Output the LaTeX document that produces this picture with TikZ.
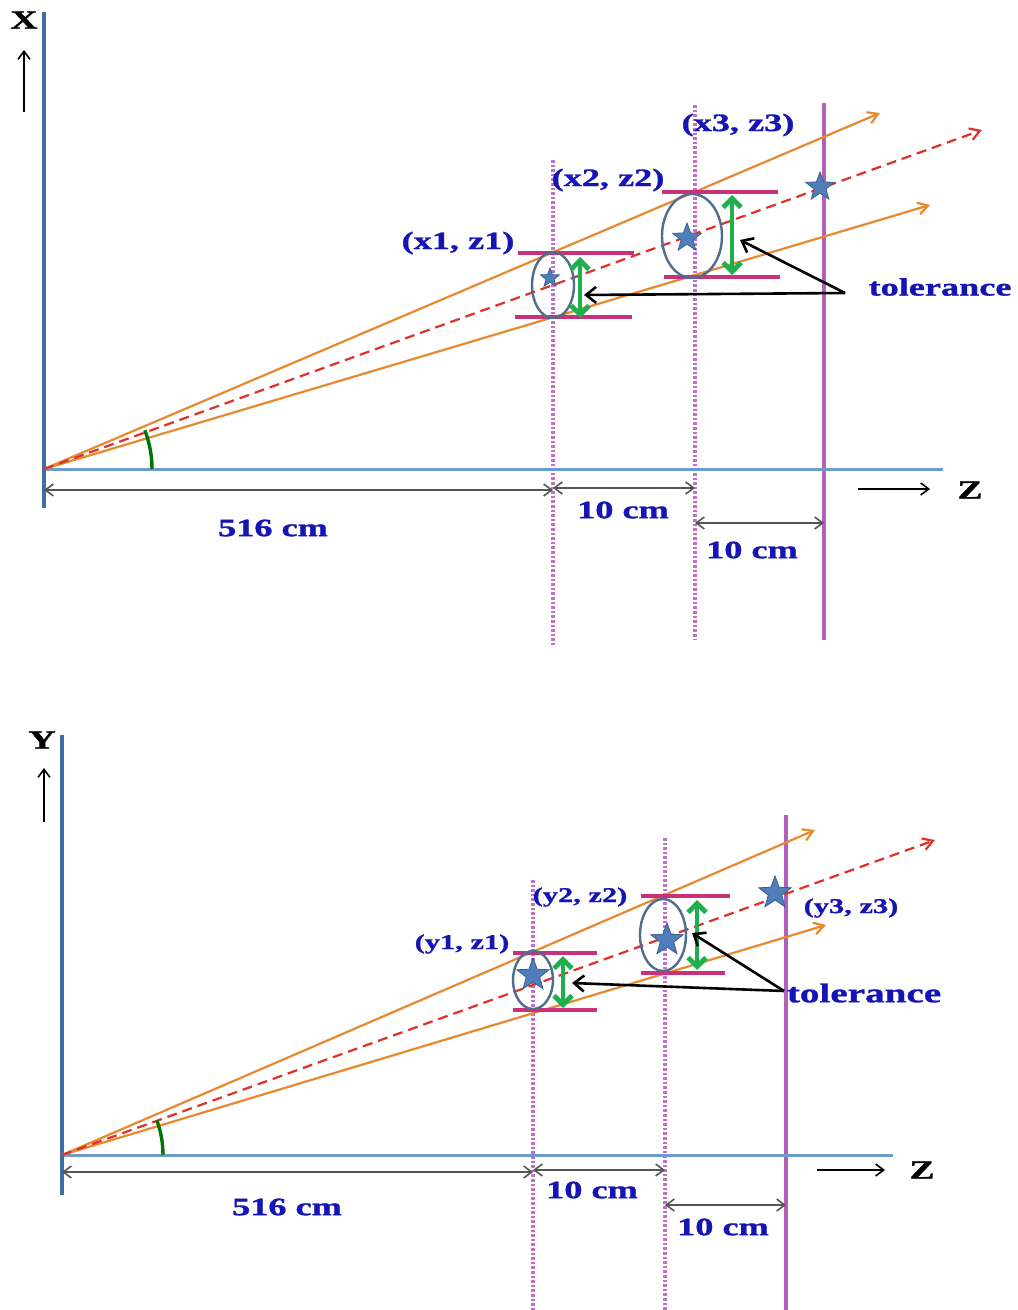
\documentclass[tikz,border=0pt]{standalone}
\usepackage{fontspec}
\newfontfamily\lbl[FakeStretch=1.45,BoldFeatures={FakeBold=1.2}]{Liberation Serif}
\usetikzlibrary{arrows.meta,shapes.geometric}
\definecolor{axisv}{HTML}{3F6EA5}
\definecolor{axish}{HTML}{6D9CCB}
\definecolor{orng}{HTML}{E8892F}
\definecolor{reddash}{HTML}{E0302A}
\definecolor{magh}{HTML}{C8327A}
\definecolor{dotv}{HTML}{C070CC}
\definecolor{solv}{HTML}{B260B8}
\definecolor{ellc}{HTML}{4E6E8E}
\definecolor{starf}{HTML}{4F7EBB}
\definecolor{stare}{HTML}{3A5F8F}
\definecolor{grn}{HTML}{1DB04C}
\definecolor{lblue}{HTML}{1515B5}
\definecolor{dimc}{HTML}{555555}
\begin{document}
\begin{tikzpicture}[x=0.5pt,y=-0.5pt,
  vaxis/.style={axisv,line width=2pt},
  haxis/.style={axish,line width=1.5pt},
  rayline/.style={orng,line width=1.1pt,-{Straight Barb[length=5pt,width=6pt]}},
  dashray/.style={reddash,line width=1.1pt,dash pattern=on 5pt off 3pt,-{Straight Barb[length=5pt,width=6pt]}},
  dotline/.style={dotv,line width=1.8pt,dash pattern=on 1.3pt off 1pt},
  solline/.style={solv,line width=1.9pt},
  tolbar/.style={magh,line width=1.6pt},
  ellline/.style={ellc,line width=1.2pt},
  grnarrow/.style={grn,line width=2.4pt,{Straight Barb[length=4.5pt,width=9pt]}-{Straight Barb[length=4.5pt,width=9pt]}},
  tolarrow/.style={black,line width=1.3pt,-{Straight Barb[length=5pt,width=8pt]}},
  dimarrow/.style={dimc,line width=0.8pt,{Straight Barb[length=4pt,width=6pt]}-{Straight Barb[length=4pt,width=6pt]}},
  axarrow/.style={black,line width=0.8pt,-{Straight Barb[length=4pt,width=6pt]}},
  starshape/.style={star,star points=5,star point ratio=2.4,fill=starf,draw=stare,line width=0.4pt,inner sep=0pt},
  anglearc/.style={green!45!black,line width=1.7pt},
  lbltext/.style={text=lblue,font=\lbl\bfseries\fontsize{12.5}{14}\selectfont,inner sep=0pt},
  axtext/.style={text=black,font=\lbl\bfseries\fontsize{13}{15}\selectfont,inner sep=0pt}
]
\useasboundingbox (0,0) rectangle (1017,1310);
\fill[white] (0,0) rectangle (1017,1310);

% ================= TOP PANEL =================
\coordinate (o1) at (44,469);
\draw[dotline] (553,160) -- (553,645);
\draw[dotline] (695,105) -- (695,640);
\draw[solline] (824,103) -- (824,640);
\draw[haxis] (o1) -- (943,469);
\draw[vaxis] (44,12) -- (44,508);
\draw[rayline] (o1) -- (880,113);
\draw[rayline] (o1) -- (930,205);
\draw[dashray] (o1) -- (982,130);
\draw[anglearc] ([shift={(0:108)}]o1) arc (0:-21:108);
\draw[tolbar] (518,253) -- (634,253);
\draw[tolbar] (515,317) -- (632,317);
\draw[tolbar] (662,192) -- (778,192);
\draw[tolbar] (664,277) -- (780,277);
\draw[ellline] (553,285) ellipse [x radius=21, y radius=33];
\draw[ellline] (692,236) ellipse [x radius=30, y radius=42];
\draw[grnarrow] (580,257) -- (580,318);
\draw[grnarrow] (732,195) -- (732,275);
\node[starshape,minimum size=10pt] (s11) at (550,278) {};
\node[starshape,minimum size=15pt] (s12) at (687,238) {};
\node[starshape,minimum size=15pt] (s13) at (820,187) {};
\node[lbltext] (l11) at (458,243) {(x1, z1)};
\node[lbltext] (l12) at (608,180) {(x2, z2)};
\node[lbltext] (l13) at (738,125) {(x3, z3)};
\node[lbltext] (tol1) at (940,287) {tolerance};
\coordinate (t1) at (845,293);
\coordinate (g11) at (584,295);
\coordinate (g12) at (740,240);
\draw[tolarrow] (t1) -- (g11);
\draw[tolarrow] (t1) -- (g12);
\draw[dimarrow] (44,490) -- (553,490);
\draw[dimarrow] (553,488) -- (695,488);
\draw[dimarrow] (695,523) -- (824,523);
\node[lbltext] (d11) at (273,528) {516 cm};
\node[lbltext] (d12) at (623,510) {10 cm};
\node[lbltext] (d13) at (752,550) {10 cm};
\node[axtext] (xl) at (24,20) {X};
\coordinate (xa1) at (24,112);
\coordinate (xa2) at (24,50);
\draw[axarrow] (xa1) -- (xa2);
\coordinate (za1) at (858,489);
\coordinate (za2) at (930,489);
\draw[axarrow] (za1) -- (za2);
\node[axtext] (zl1) at (970,490) {Z};

% ================= BOTTOM PANEL =================
\coordinate (o2) at (62,1155);
\draw[dotline] (533,880) -- (533,1310);
\draw[dotline] (665,838) -- (665,1310);
\draw[solline] (786,815) -- (786,1310);
\draw[haxis] (o2) -- (893,1155);
\draw[vaxis] (62,735) -- (62,1195);
\draw[rayline] (o2) -- (815,830);
\draw[rayline] (o2) -- (826,925);
\draw[dashray] (o2) -- (935,840);
\draw[anglearc] ([shift={(0:101)}]o2) arc (0:-20:101);
\draw[tolbar] (513,953) -- (597,953);
\draw[tolbar] (513,1010) -- (597,1010);
\draw[tolbar] (641,896) -- (730,896);
\draw[tolbar] (641,973) -- (725,973);
\draw[ellline] (533,980) ellipse [x radius=20, y radius=29];
\draw[ellline] (663,935) ellipse [x radius=23, y radius=36];
\draw[grnarrow] (563,956) -- (563,1008);
\draw[grnarrow] (697,900) -- (697,970);
\node[starshape,minimum size=17pt] (s21) at (533,975) {};
\node[starshape,minimum size=17pt] (s22) at (667,940) {};
\node[starshape,minimum size=17pt] (s23) at (775,893) {};
\node[lbltext,font=\lbl\bfseries\fontsize{10.5}{12}\selectfont] (l21) at (462,944) {(y1, z1)};
\node[lbltext,font=\lbl\bfseries\fontsize{10.5}{12}\selectfont] (l22) at (580,897) {(y2, z2)};
\node[lbltext,font=\lbl\bfseries\fontsize{10.5}{12}\selectfont] (l23) at (851,908) {(y3, z3)};
\node[lbltext,font=\lbl\bfseries\fontsize{13.5}{15}\selectfont] (tol2) at (864,993) {tolerance};
\coordinate (t2) at (784,991);
\coordinate (g21) at (572,983);
\coordinate (g22) at (692,933);
\draw[tolarrow] (t2) -- (g21);
\draw[tolarrow] (t2) -- (g22);
\draw[dimarrow] (62,1172) -- (533,1172);
\draw[dimarrow] (533,1170) -- (665,1170);
\draw[dimarrow] (665,1205) -- (786,1205);
\node[lbltext] (d21) at (287,1207) {516 cm};
\node[lbltext] (d22) at (592,1190) {10 cm};
\node[lbltext] (d23) at (723,1227) {10 cm};
\node[axtext] (yl) at (42,740) {Y};
\coordinate (ya1) at (44,822);
\coordinate (ya2) at (44,768);
\draw[axarrow] (ya1) -- (ya2);
\coordinate (zb1) at (817,1170);
\coordinate (zb2) at (885,1170);
\draw[axarrow] (zb1) -- (zb2);
\node[axtext] (zl2) at (922,1170) {Z};
\end{tikzpicture}
\end{document}
